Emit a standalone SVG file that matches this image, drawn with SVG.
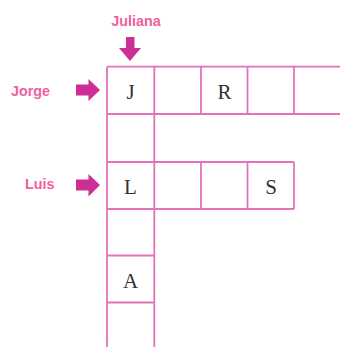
<svg xmlns="http://www.w3.org/2000/svg" width="340" height="347" viewBox="0 0 340 347">
<style>
.grid line{stroke:#e272ba;stroke-width:1.8;fill:none}
.lbl{font-family:"Liberation Sans",Arial,sans-serif;font-weight:bold;font-size:14.3px;fill:#f0609e}
.arw{fill:#cc2e96}
.ch{font-family:"Liberation Serif","Times New Roman",serif;font-size:21px;fill:#333;text-anchor:middle}
</style>
<rect width="340" height="347" fill="#fff"/>
<g id="connectors">
<polygon id="arrow-juliana" class="arw" points="126,37 134.5,37 134.5,48 141,48 130,61 119,48 126,48"/>
<polygon id="arrow-jorge" class="arw" points="76,84.5 88.5,84.5 88.5,79 100,90 88.5,101 88.5,95.5 76,95.5"/>
<polygon id="arrow-luis" class="arw" points="76,179.5 88.5,179.5 88.5,174 100,185 88.5,196.5 88.5,190.5 76,190.5"/>
</g>
<g id="grid" class="grid">
<line x1="107" y1="66.7" x2="340" y2="66.7"/>
<line x1="107" y1="114" x2="340" y2="114"/>
<line x1="107" y1="162" x2="294" y2="162"/>
<line x1="107" y1="209" x2="294" y2="209"/>
<line x1="107" y1="255.5" x2="154" y2="255.5"/>
<line x1="107" y1="302.5" x2="154" y2="302.5"/>
<line x1="107" y1="66.7" x2="107" y2="347"/>
<line x1="154.3" y1="66.7" x2="154.3" y2="347"/>
<line x1="201" y1="66.7" x2="201" y2="114"/>
<line x1="247.5" y1="66.7" x2="247.5" y2="114"/>
<line x1="294" y1="66.7" x2="294" y2="114"/>
<line x1="201" y1="162" x2="201" y2="209"/>
<line x1="247.5" y1="162" x2="247.5" y2="209"/>
<line x1="294" y1="162" x2="294" y2="209"/>
</g>
<g id="label-juliana"><text class="lbl" x="136" y="26" text-anchor="middle">Juliana</text></g>
<g id="label-jorge"><text class="lbl" x="11" y="96">Jorge</text></g>
<g id="label-luis"><text class="lbl" x="25" y="188.5">Luis</text></g>
<g id="cell-J"><text class="ch" x="130.5" y="99">J</text></g>
<g id="cell-R"><text class="ch" x="224.5" y="99">R</text></g>
<g id="cell-L"><text class="ch" x="130.5" y="193.5">L</text></g>
<g id="cell-S"><text class="ch" x="271" y="193.5">S</text></g>
<g id="cell-A"><text class="ch" x="130.5" y="287.5">A</text></g>
</svg>
